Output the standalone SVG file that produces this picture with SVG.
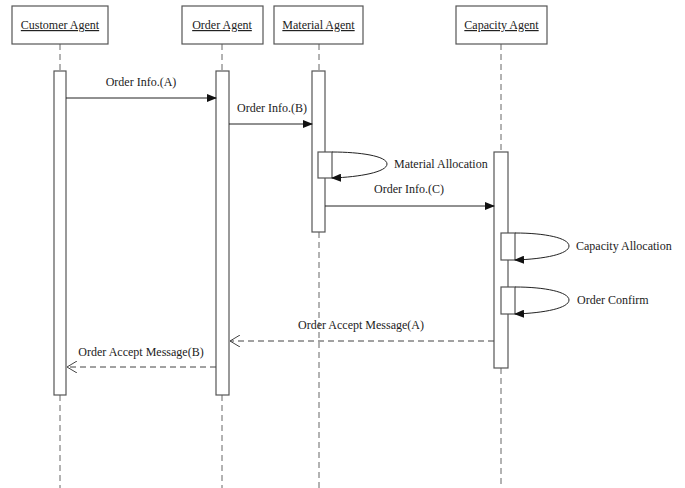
<svg xmlns="http://www.w3.org/2000/svg" width="685" height="488" viewBox="0 0 685 488">
<defs>
<style>
text{font-family:"Liberation Serif","Times New Roman",serif;font-size:12px;fill:#222}
.hd{text-decoration:underline}
.box{fill:#fff;stroke:#555;stroke-width:1.2}
.life{stroke:#666;stroke-width:1;stroke-dasharray:6,4;fill:none}
.act{fill:#fff;stroke:#555;stroke-width:1.2}
.msg{stroke:#222;stroke-width:1;fill:none}
.ret{stroke:#444;stroke-width:1;fill:none;stroke-dasharray:6,4}
</style>
<marker id="fa" markerWidth="10" markerHeight="8" refX="9" refY="4" orient="auto" markerUnits="userSpaceOnUse">
<path d="M0,0 L10,4 L0,8 z" fill="#111"/>
</marker>
<marker id="oa" markerWidth="12" markerHeight="12" refX="11" refY="6" orient="auto" markerUnits="userSpaceOnUse">
<path d="M1,0 L11,6 L1,12" fill="none" stroke="#444" stroke-width="1"/>
</marker>
</defs>
<rect width="685" height="488" fill="#fff"/>
<g id="lifelines">
<line class="life" x1="60" y1="44" x2="60" y2="71"/>
<line class="life" x1="60" y1="395" x2="60" y2="488"/>
<line class="life" x1="222" y1="44" x2="222" y2="71"/>
<line class="life" x1="222" y1="395" x2="222" y2="488"/>
<line class="life" x1="319" y1="44" x2="319" y2="71"/>
<line class="life" x1="319" y1="232" x2="319" y2="488"/>
<line class="life" x1="501" y1="44" x2="501" y2="152"/>
<line class="life" x1="501" y1="368" x2="501" y2="488"/>
</g>
<g id="customer-agent">
<rect class="box" x="12" y="6" width="96" height="38"/>
<text class="hd" x="60" y="29" text-anchor="middle">Customer Agent</text>
<rect class="act" x="54" y="71" width="12" height="324"/>
</g>
<g id="order-agent">
<rect class="box" x="182" y="6" width="81" height="38"/>
<text class="hd" x="222" y="29" text-anchor="middle">Order Agent</text>
<rect class="act" x="216" y="71" width="13" height="324"/>
</g>
<g id="material-agent">
<rect class="box" x="274" y="6" width="89" height="38"/>
<text class="hd" x="318.5" y="29" text-anchor="middle">Material Agent</text>
<rect class="act" x="312" y="71" width="13" height="161"/>
<rect class="act" x="318" y="152" width="14" height="26"/>
</g>
<g id="capacity-agent">
<rect class="box" x="456" y="6" width="91" height="38"/>
<text class="hd" x="501.5" y="29" text-anchor="middle">Capacity Agent</text>
<rect class="act" x="494" y="152" width="14" height="216"/>
<rect class="act" x="501" y="233" width="14" height="27"/>
<rect class="act" x="501" y="287" width="14" height="27"/>
</g>
<g id="connectors">
<line class="msg" x1="66" y1="98" x2="216" y2="98" marker-end="url(#fa)"/>
<text x="141" y="86" text-anchor="middle">Order Info.(A)</text>
<line class="msg" x1="229" y1="124" x2="312" y2="124" marker-end="url(#fa)"/>
<text x="272" y="112" text-anchor="middle">Order Info.(B)</text>
<path class="msg" d="M332,152 C360,152 387,156 387,164 C387,172 360,177 332,178" marker-end="url(#fa)"/>
<text x="394" y="168">Material Allocation</text>
<line class="msg" x1="325" y1="206" x2="494" y2="206" marker-end="url(#fa)"/>
<text x="409" y="193" text-anchor="middle">Order Info.(C)</text>
<path class="msg" d="M515,233 C545,233 569,238 569,246 C569,254 545,259 515,260" marker-end="url(#fa)"/>
<text x="576" y="250">Capacity Allocation</text>
<path class="msg" d="M515,287 C545,287 569,292 569,300 C569,308 545,313 515,314" marker-end="url(#fa)"/>
<text x="577" y="304">Order Confirm</text>
<line class="ret" x1="494" y1="341" x2="230" y2="341" marker-end="url(#oa)"/>
<text x="361" y="329" text-anchor="middle">Order Accept Message(A)</text>
<line class="ret" x1="216" y1="367" x2="67" y2="367" marker-end="url(#oa)"/>
<text x="141" y="356" text-anchor="middle">Order Accept Message(B)</text>
</g>
</svg>
